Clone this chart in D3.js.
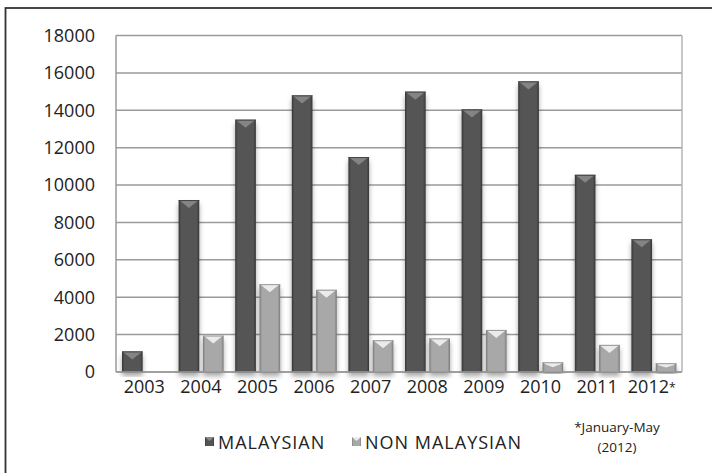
<!DOCTYPE html>
<html><head><meta charset="utf-8">
<script src="https://cdn.jsdelivr.net/npm/d3@7/dist/d3.min.js"></script>
<style>body{margin:0;background:#fff}svg{display:block}text{font-family:"Open Sans",sans-serif;fill:#222}</style>
</head><body><svg id="c" width="712" height="473"></svg>
<script>
const years = ["2003","2004","2005","2006","2007","2008","2009","2010","2011","2012"];
const malaysian = [1100,9200,13500,14800,11500,15000,14050,15550,10550,7100];
const nonMalaysian = [0,1950,4700,4400,1700,1800,2250,520,1450,470];
const yTicks = [0,2000,4000,6000,8000,10000,12000,14000,16000,18000];
const seriesNames = ["MALAYSIAN","NON MALAYSIAN"];

const svg = d3.select("#c");
const L=116, R=682, T=35.6, B=372;
const x0 = d3.scaleBand().domain(years).range([L,R]).padding(0);
const x1 = d3.scaleBand().domain(seriesNames).range([6,51]).paddingInner(0.15);
const y = d3.scaleLinear().domain([0,18000]).range([B,T]);

const defs = svg.append("defs");
function grad(id, edge, mid){
  const g = defs.append("linearGradient").attr("id",id).attr("x1","0").attr("x2","1").attr("y1","0").attr("y2","0");
  g.append("stop").attr("offset","0").attr("stop-color",edge);
  g.append("stop").attr("offset","0.12").attr("stop-color",mid);
  g.append("stop").attr("offset","0.88").attr("stop-color",mid);
  g.append("stop").attr("offset","1").attr("stop-color",edge);
}
grad("gM","#363636","#545454");
grad("gN","#7a7a7a","#a8a8a8");
const f = defs.append("filter").attr("id","sh").attr("x","-30%").attr("y","-10%").attr("width","160%").attr("height","130%");
f.append("feDropShadow").attr("dx",0).attr("dy",4).attr("stdDeviation",2.5).attr("flood-color","#000").attr("flood-opacity",0.35);

// outer frame
svg.append("rect").attr("x",5.5).attr("y",8).attr("width",720).attr("height",480).attr("fill","none").attr("stroke","#333").attr("stroke-width",1.8);

// gridlines
svg.append("g").selectAll("line").data(yTicks).join("line")
  .attr("x1",L).attr("x2",R).attr("y1",d=>y(d)).attr("y2",d=>y(d))
  .attr("stroke","#9a9a9a").attr("stroke-width",1.5);
svg.append("line").attr("x1",L).attr("x2",L).attr("y1",T).attr("y2",B).attr("stroke","#9a9a9a").attr("stroke-width",1.5);
svg.append("line").attr("x1",R).attr("x2",R).attr("y1",T).attr("y2",B).attr("stroke","#b5b5b5").attr("stroke-width",1.5);

// y axis labels
const ya = svg.append("g").attr("transform",`translate(${L},0)`)
  .call(d3.axisLeft(y).tickValues(yTicks).tickSize(0).tickPadding(21).tickFormat(d=>String(d)));
ya.select(".domain").remove();
ya.selectAll("text").style("font-size","18px").attr("fill","#222");

// x axis labels
const xa = svg.append("g").attr("transform",`translate(0,${B})`)
  .call(d3.axisBottom(x0).tickSize(0).tickPadding(8));
xa.select(".domain").remove();
xa.selectAll("text").style("font-size","18px").attr("fill","#222");
xa.selectAll(".tick").filter(d=>d==="2012").select("text").attr("dx","-2")
  .append("tspan").text("*").style("font-size","12px").attr("dy","-1");

const data = [];
years.forEach((yr,i)=>{
  data.push({yr, s:seriesNames[0], v:malaysian[i]});
  data.push({yr, s:seriesNames[1], v:nonMalaysian[i]});
});
const bars = svg.append("g").selectAll("g").data(data.filter(d=>d.v>0)).join("g")
  .attr("transform",d=>`translate(${x0(d.yr)+x1(d.s)},0)`);
bars.append("rect").attr("x",0).attr("y",d=>y(d.v)).attr("width",x1.bandwidth()).attr("height",d=>B-y(d.v))
  .attr("fill",d=>d.s===seriesNames[0]?"url(#gM)":"url(#gN)").attr("filter","url(#sh)");
bars.append("path").attr("d",d=>{
  const w=x1.bandwidth(), t=y(d.v), h=Math.min(8,(B-t)/2);
  return `M0,${t}L${w},${t}L${w-3},${t+2}L${w/2},${t+h}L3,${t+2}Z`;
}).attr("fill",d=>d.s===seriesNames[0]?"#8a8a8a":"#f2f2f2").attr("opacity",0.9);
bars.append("line").attr("x1",0).attr("x2",x1.bandwidth()).attr("y1",d=>y(d.v)+0.5).attr("y2",d=>y(d.v)+0.5)
  .attr("stroke",d=>d.s===seriesNames[0]?"#444":"#999").attr("stroke-width",1);

// baseline
svg.append("line").attr("x1",L).attr("x2",R).attr("y1",B).attr("y2",B).attr("stroke","#9a9a9a").attr("stroke-width",1.5);

// legend
const leg = svg.append("g");
const legX = [205, 352];
seriesNames.forEach((s,i)=>{
  leg.append("rect").attr("x",legX[i]).attr("y",437).attr("width",9).attr("height",9)
    .attr("fill",i===0?"url(#gM)":"url(#gN)");
  leg.append("path").attr("d",`M${legX[i]},437L${legX[i]+9},437L${legX[i]+4.5},441Z`).attr("fill",i===0?"#8a8a8a":"#eee");
  leg.append("text").attr("x",legX[i]+13).attr("y",448.5).text(s).style("font-size","18px").style("letter-spacing","1px");
});

// footnote
svg.append("text").attr("x",617).attr("y",432).attr("text-anchor","middle").text("*January-May").style("font-size","13.5px");
svg.append("text").attr("x",617).attr("y",452).attr("text-anchor","middle").text("(2012)").style("font-size","13.5px");
</script></body></html>
